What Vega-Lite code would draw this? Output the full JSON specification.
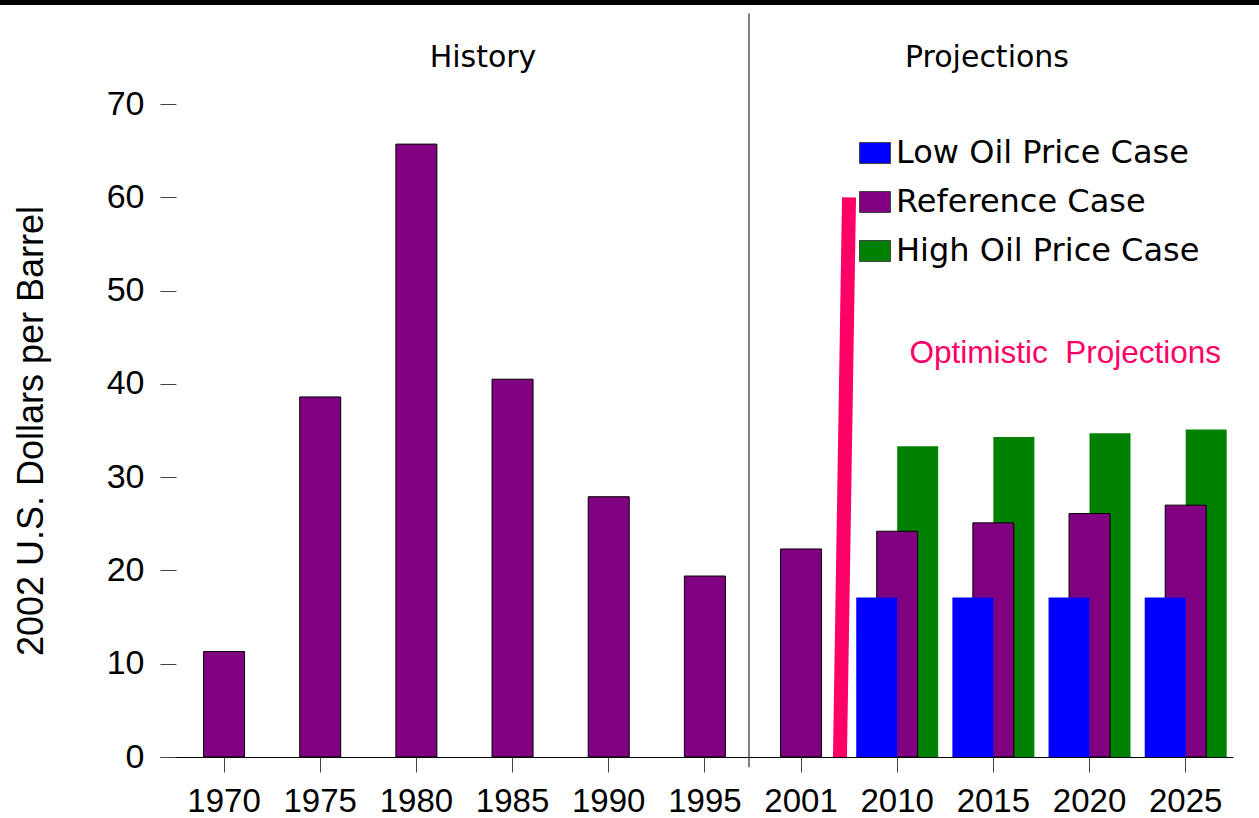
{
  "$schema": "https://vega.github.io/schema/vega-lite/v6.json",
  "width": 1073,
  "height": 653,
  "autosize": {"type": "none"},
  "padding": {"left": 160, "top": 104, "right": 26, "bottom": 61},
  "background": "white",
  "config": {"font": "Liberation Sans", "view": {"stroke": null}},
  "datasets": {
    "prices": [
      {"year": "2010", "case": "High Oil Price Case", "price": 33.3},
      {"year": "2015", "case": "High Oil Price Case", "price": 34.3},
      {"year": "2020", "case": "High Oil Price Case", "price": 34.7},
      {"year": "2025", "case": "High Oil Price Case", "price": 35.1},
      {"year": "1970", "case": "Reference Case", "price": 11.3},
      {"year": "1975", "case": "Reference Case", "price": 38.6},
      {"year": "1980", "case": "Reference Case", "price": 65.7},
      {"year": "1985", "case": "Reference Case", "price": 40.5},
      {"year": "1990", "case": "Reference Case", "price": 27.9},
      {"year": "1995", "case": "Reference Case", "price": 19.4},
      {"year": "2001", "case": "Reference Case", "price": 22.3},
      {"year": "2010", "case": "Reference Case", "price": 24.2},
      {"year": "2015", "case": "Reference Case", "price": 25.1},
      {"year": "2020", "case": "Reference Case", "price": 26.1},
      {"year": "2025", "case": "Reference Case", "price": 27.0},
      {"year": "2010", "case": "Low Oil Price Case", "price": 17.1},
      {"year": "2015", "case": "Low Oil Price Case", "price": 17.1},
      {"year": "2020", "case": "Low Oil Price Case", "price": 17.1},
      {"year": "2025", "case": "Low Oil Price Case", "price": 17.1}
    ]
  },
  "layer": [
    {
      "data": {"name": "prices"},
      "mark": {"type": "bar", "width": 41, "strokeWidth": 1},
      "encoding": {
        "x": {
          "field": "year",
          "type": "ordinal",
          "sort": ["1970", "1975", "1980", "1985", "1990", "1995", "2001", "2010", "2015", "2020", "2025"],
          "scale": {"type": "band", "paddingInner": 0.574, "paddingOuter": 0.366, "align": 0.619},
          "axis": {
            "title": null,
            "labelAngle": 0,
            "labelFontSize": 33,
            "labelColor": "black",
            "labelPadding": 13,
            "tickSize": 15,
            "tickColor": "#444",
            "domainColor": "black",
            "grid": false
          }
        },
        "xOffset": {
          "field": "case",
          "type": "nominal",
          "scale": {"type": "point", "padding": 0, "domain": ["Low Oil Price Case", "Reference Case", "High Oil Price Case"]}
        },
        "y": {
          "field": "price",
          "type": "quantitative",
          "scale": {"domain": [0, 70], "nice": false},
          "axis": {
            "title": "2002 U.S. Dollars per Barrel",
            "titleFontSize": 36,
            "titleFontWeight": "normal",
            "titleColor": "black",
            "titlePadding": 56,
            "values": [0, 10, 20, 30, 40, 50, 60, 70],
            "domain": false,
            "grid": false,
            "offset": -16,
            "tickSize": 16,
            "tickColor": "#444",
            "labelFontSize": 34,
            "labelColor": "black",
            "labelPadding": 16
          }
        },
        "color": {
          "field": "case",
          "type": "nominal",
          "scale": {"domain": ["Low Oil Price Case", "Reference Case", "High Oil Price Case"], "range": ["#0000FF", "#800080", "#008000"]},
          "legend": {
            "title": null,
            "orient": "none",
            "legendX": 699,
            "legendY": 33,
            "padding": 0,
            "symbolType": "M-1,-0.677L1,-0.677L1,0.677L-1,0.677Z",
            "symbolSize": 961,
            "symbolStrokeColor": "#444",
            "symbolStrokeWidth": 1,
            "symbolOpacity": 1,
            "labelFont": "DejaVu Sans",
            "labelFontSize": 32,
            "labelColor": "black",
            "labelOffset": 5,
            "labelLimit": 0,
            "rowPadding": 17
          }
        },
        "stroke": {"condition": {"test": "datum['case'] === 'Reference Case'", "value": "black"}, "value": "transparent"}
      }
    },
    {
      "data": {"values": [{"pos": 0}]},
      "mark": {"type": "rule", "color": "black", "strokeWidth": 1},
      "encoding": {
        "x": {"datum": "1995", "bandPosition": 1.577},
        "y": {"datum": 79.7},
        "y2": {"datum": -1.1}
      }
    },
    {
      "data": {"values": [{"pos": 0}]},
      "mark": {"type": "rule", "color": "black", "strokeWidth": 5},
      "encoding": {
        "x": {"datum": "1970", "bandPosition": -4.97},
        "x2": {"datum": "2025", "bandPosition": 2.29},
        "y": {"datum": 80.88}
      }
    },
    {
      "data": {"values": [{"from": "2001", "to": "2010", "lo": 0, "hi": 60}]},
      "mark": {"type": "rule", "color": "#FF0066", "strokeWidth": 14},
      "encoding": {
        "x": {"field": "from", "bandPosition": 1.45},
        "x2": {"field": "to", "bandPosition": -0.676},
        "y": {"field": "lo", "type": "quantitative"},
        "y2": {"field": "hi"}
      }
    },
    {
      "data": {"values": [{"label": "History", "at": "1980", "pos": 74}]},
      "mark": {"type": "text", "font": "DejaVu Sans", "fontSize": 30, "baseline": "alphabetic", "align": "center", "color": "black"},
      "encoding": {
        "x": {"field": "at", "bandPosition": 2.126},
        "y": {"field": "pos", "type": "quantitative"},
        "text": {"field": "label"}
      }
    },
    {
      "data": {"values": [{"label": "Projections", "at": "2015", "pos": 74}]},
      "mark": {"type": "text", "font": "DejaVu Sans", "fontSize": 30, "baseline": "alphabetic", "align": "center", "color": "black"},
      "encoding": {
        "x": {"field": "at", "bandPosition": 0.344},
        "y": {"field": "pos", "type": "quantitative"},
        "text": {"field": "label"}
      }
    },
    {
      "data": {"values": [{"label": "Optimistic\u00a0 Projections", "at": "2010", "pos": 42.2}]},
      "mark": {"type": "text", "font": "Liberation Sans", "fontSize": 31.5, "baseline": "alphabetic", "align": "left", "color": "#FF0066"},
      "encoding": {
        "x": {"field": "at", "bandPosition": 0.8},
        "y": {"field": "pos", "type": "quantitative"},
        "text": {"field": "label"}
      }
    }
  ]
}
